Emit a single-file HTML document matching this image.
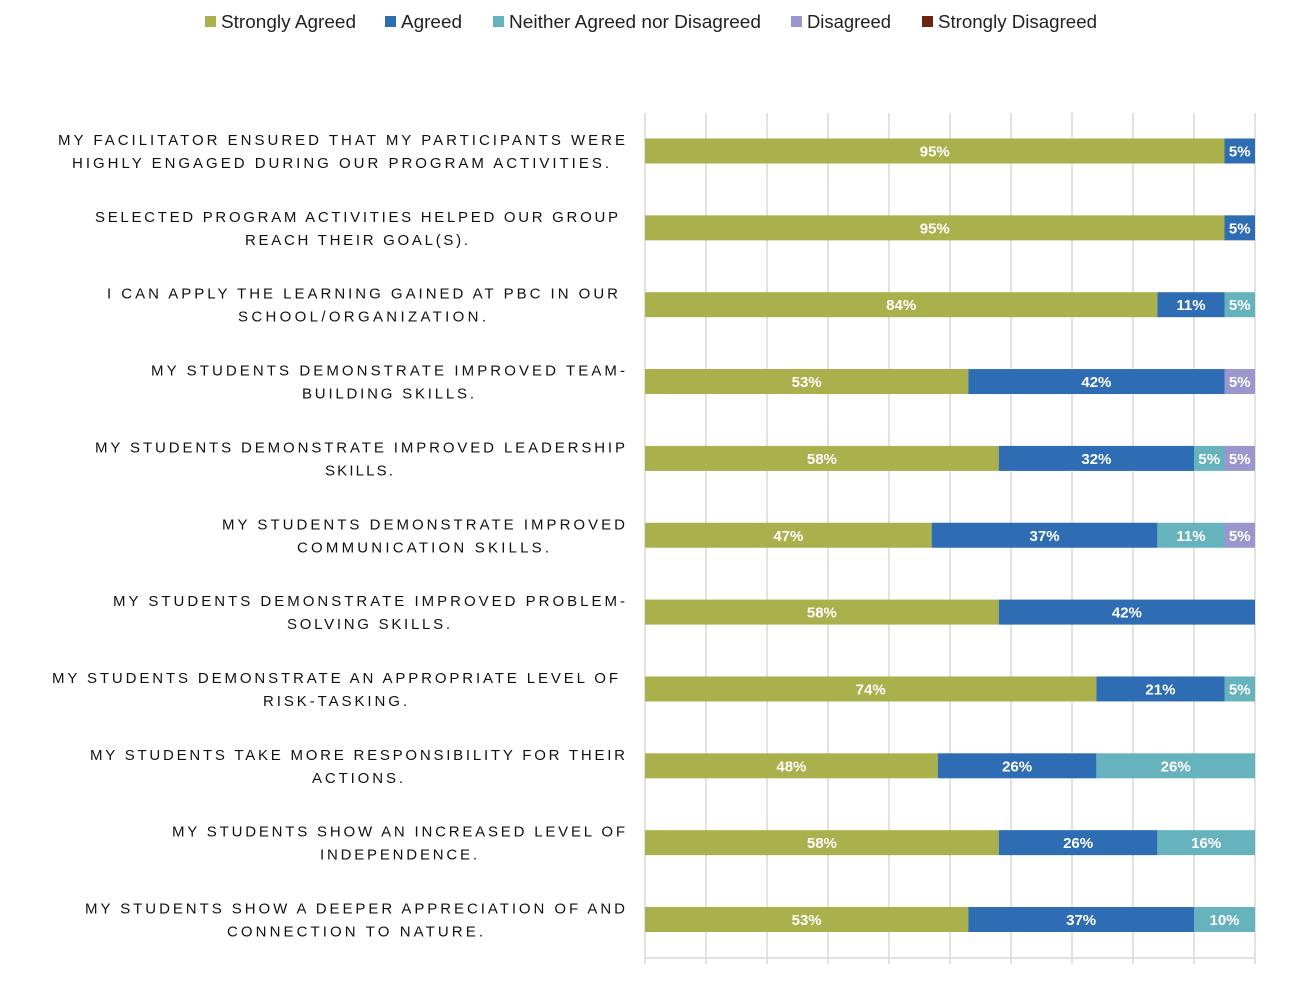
<!DOCTYPE html>
<html><head><meta charset="utf-8"><style>
body{margin:0;background:#fff;}
svg{display:block;font-family:"Liberation Sans",sans-serif;}
</style></head><body>
<svg id="chart" width="1298" height="1002"></svg>
<script>
const categories=[
 ["MY FACILITATOR ENSURED THAT MY PARTICIPANTS WERE","HIGHLY ENGAGED DURING OUR PROGRAM ACTIVITIES."],
 ["SELECTED PROGRAM ACTIVITIES HELPED OUR GROUP","REACH THEIR GOAL(S)."],
 ["I CAN APPLY THE LEARNING GAINED AT PBC IN OUR","SCHOOL/ORGANIZATION."],
 ["MY STUDENTS DEMONSTRATE IMPROVED TEAM-","BUILDING SKILLS."],
 ["MY STUDENTS DEMONSTRATE IMPROVED LEADERSHIP","SKILLS."],
 ["MY STUDENTS DEMONSTRATE IMPROVED","COMMUNICATION SKILLS."],
 ["MY STUDENTS DEMONSTRATE IMPROVED PROBLEM-","SOLVING SKILLS."],
 ["MY STUDENTS DEMONSTRATE AN APPROPRIATE LEVEL OF","RISK-TASKING."],
 ["MY STUDENTS TAKE MORE RESPONSIBILITY FOR THEIR","ACTIONS."],
 ["MY STUDENTS SHOW AN INCREASED LEVEL OF","INDEPENDENCE."],
 ["MY STUDENTS SHOW A DEEPER APPRECIATION OF AND","CONNECTION TO NATURE."]
];
const seriesNames=["Strongly Agreed","Agreed","Neither Agreed nor Disagreed","Disagreed","Strongly Disagreed"];
const stronglyAgreed=[95,95,84,53,58,47,58,74,48,58,53];
const agreed=[5,5,11,42,32,37,42,21,26,26,37];
const neither=[0,0,5,0,5,11,0,5,26,16,10];
const disagreed=[0,0,0,5,5,5,0,0,0,0,0];
const stronglyDisagreed=[0,0,0,0,0,0,0,0,0,0,0];
const xTicks=[0,10,20,30,40,50,60,70,80,90,100];
const labelLayout=[[58,567,72,537],[95,523,245,223],[107,511,238,248],[151,474,302,172],[95,530,325,68],[222,403,297,252],[113,512,287,163],[52,566,263,144],[90,535,312,91],[172,453,320,157],[85,540,227,256]];
const colors=["#A9B04C","#2E6DB4","#67B3BD","#9A97CF","#6B2410"];
const legendX=[205,385,493,791,922];
const legendW=[135,61,252,84,159];
const series=[stronglyAgreed,agreed,neither,disagreed,stronglyDisagreed];
const NS="http://www.w3.org/2000/svg";
const svg=document.getElementById('chart');
const x0=645,x1=1255,yTop=113,yBot=958;
const xs=v=>x0+(x1-x0)*v/100;
const rowY=i=>151+i*76.85;
const barH=25;
function mk(t,a,p){const e=document.createElementNS(NS,t);for(const k in a)e.setAttribute(k,a[k]);(p||svg).appendChild(e);return e;}
xTicks.forEach(t=>{
 const g=mk('line',{x1:xs(t),x2:xs(t),y1:yTop,y2:yBot+6,stroke:'#d9d9d9','stroke-width':1.5});
 
 
});
const ax=mk('line',{x1:x0,x2:x1,y1:yBot,y2:yBot,stroke:'#d9d9d9','stroke-width':1.5});


categories.forEach((c,i)=>{
 let acc=0;const cy=rowY(i);
 series.forEach((s,j)=>{
  const v=s[i];if(!v)return;
  const r=mk('rect',{x:xs(acc),y:cy-barH/2,width:xs(acc+v)-xs(acc),height:barH,fill:colors[j]});
  
  
  const t=mk('text',{x:(xs(acc)+xs(acc+v))/2,y:cy+5.5,'text-anchor':'middle',fill:'#fff','font-size':15,'font-weight':'600'});
  t.textContent=v+'%';
  
  
  acc+=v;
 });
 const L=labelLayout[i];
 [0,1].forEach(k=>{
  const t=mk('text',{x:L[k*2],y:cy-6+k*23,textLength:L[k*2+1],lengthAdjust:'spacing','font-size':15,fill:'#111'});
  t.textContent=c[k];
  
  
 });
});
seriesNames.forEach((n,j)=>{
 const r=mk('rect',{x:legendX[j],y:16,width:11,height:11,fill:colors[j]});
 
 
 const t=mk('text',{x:legendX[j]+16,y:28,'font-size':18,fill:'#222',textLength:legendW[j],lengthAdjust:'spacingAndGlyphs'});
 t.textContent=n;
 
 
});
</script>
</body></html>
